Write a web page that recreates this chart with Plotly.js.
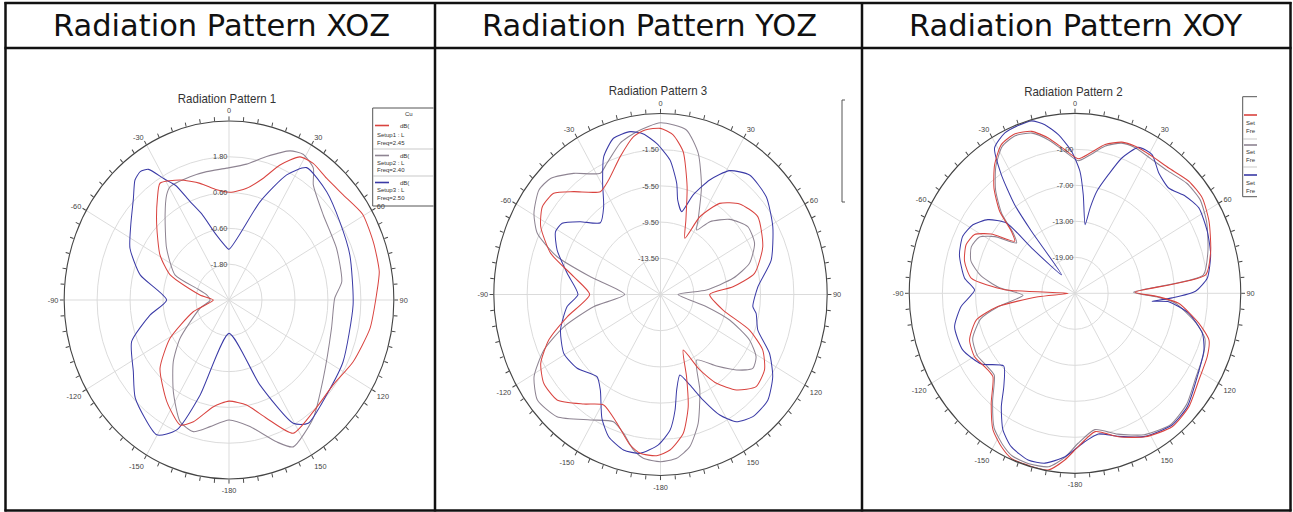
<!DOCTYPE html>
<html><head><meta charset="utf-8">
<script src="https://cdn.plot.ly/plotly-3.0.1.min.js"></script>
<style>
html,body{margin:0;padding:0;background:#fff;}
#wrap{position:relative;width:1293px;height:512px;overflow:hidden;}
#frame{position:absolute;left:0;top:0;width:1293px;height:512px;}
#polars{position:absolute;left:0;top:0;width:1404px;height:512px;transform:scaleX(0.920940);transform-origin:0 0;}
</style>
</head><body><div id="wrap"><div id="frame"></div><div id="polars"></div></div>
<script>
// ---------- DATA ----------
const HEADERS = ['Radiation Pattern XOZ', 'Radiation Pattern YOZ', 'Radiation Pattern XOY'];
const PLOT_TITLES = ['Radiation Pattern 1', 'Radiation Pattern 3', 'Radiation Pattern 2'];
const ANGLE_LABELS = ['0','30','60','90','120','150','-180','-150','-120','-90','-60','-30'];
const SERIES_NAMES = ['Setup1 : LastAdaptive Freq=2.45GHz', 'Setup2 : LastAdaptive Freq=2.40GHz', 'Setup3 : LastAdaptive Freq=2.50GHz'];

// Plot 1 (XOZ), dB
const P1_RANGE = [-3, 3];
const P1_TICKS = [-1.8, -0.6, 0.6, 1.8];
const P1_TICKTEXT = ['-1.80', '-0.60', '0.60', '1.80'];
const P1_RED_T = [180,-171,-162.4,-157,-146.4,-132.4,-120.9,-106.8,-90,-81,-68.6,-59,-46.3,-37.4,-32.7,-23.9,-15.1,-6.9,0.6,9.7,17,22.3,28.3,33.8,41,49.7,59.4,70,80.2,88.2,100.5,114.6,126.9,140.7,152.4,161,169.7,180];
const P1_RED_R = [0.39,0.62,1.28,1.55,1.09,0.40,-0.5,-1.64,-2.43,-1.93,-0.70,-0.07,0.64,1.29,1.65,1.40,1.05,0.72,0.61,0.80,1.27,1.89,2.45,2.51,2.41,2.45,2.65,2.60,2.55,2.37,2.22,1.97,1.74,1.84,2.04,1.19,0.58,0.39];
const P1_GRAY_T = [180,-170.8,-163.6,-156.4,-146.6,-135.6,-125.8,-104.7,-91,-78,-71.7,-66.8,-52.6,-39.2,-32.8,-29.5,-18.9,-10.7,-1.1,8,15.9,24,28.9,34.8,38.5,50.3,66.1,81.5,89,104.3,127.4,142.3,154.6,160,169.8,180];
const P1_GRAY_R = [1.02,1.30,1.60,1.45,0.68,-0.10,-0.80,-1.91,-2.31,-2.17,-1.76,-0.86,-0.14,0.68,1.19,1.36,1.37,1.38,1.42,1.60,2.00,2.47,2.58,2.38,1.93,1.46,1.28,1.15,0.85,0.85,1.32,2.01,2.45,2.06,1.31,1.02];
const P1_BLUE_T = [180,-161.7,-156.4,-149.8,-134,-124.6,-111.5,-100,-90,-75.4,-64.3,-54.9,-45.6,-40.4,-36.9,-33.8,-30.2,-26.8,-23.3,-19,-12.8,-5,0,18.9,26.6,32.5,44.4,57,71.1,92,116.5,131.9,145.1,150.5,158.4,180];
const P1_BLUE_R = [-1.88,0.36,1.75,2.23,1.74,1.23,0.81,-0.08,-0.73,0.34,1.00,1.37,1.87,2.28,2.38,2.27,1.70,1.30,0.60,0.05,-0.70,-1.15,-1.30,0.48,1.69,2.26,2.08,1.81,1.65,1.52,1.64,1.77,2.04,1.75,0.07,-1.88];

// Plot 2 (YOZ), dB
const P2_RANGE = [-17.5, 2.5];
const P2_TICKS = [-13.5, -9.5, -5.5, -1.5];
const P2_TICKTEXT = ['-13.50', '-9.50', '-5.50', '-1.50'];
const P2_RED_T = [-178.5,-172.1,-167.6,-159.9,-150.8,-142.7,-133.2,-125,-117.9,-110.5,-102.4,-90,-79.3,-70.9,-62.4,-55.6,-48.9,-42.5,-32.4,-26.2,-17.6,-10.5,-5.8,0,4.9,9.8,15,20.3,25.2,28.8,35.2,43.5,53.6,66.7,78.3,84.4,90,102.9,110.2,116.6,123.7,131.6,139.2,145.6,150.5,156.1,161,165,169.9,176.2,181.5];
const P2_RED_R = [0.32,0.22,-0.48,-2.34,-3.52,-2.28,-0.48,-0.40,-1.24,-3.20,-6.04,-9.0,-6.90,-3.54,-1.28,-0.32,-0.50,-2.08,-4.04,-3.40,-1.52,0.24,0.78,0.86,0.20,-1.50,-5.16,-8.72,-10.64,-7.70,-5.18,-3.70,-3.00,-4.14,-5.98,-8.76,-11.6,-9.80,-6.12,-3.78,-2.50,-2.16,-3.56,-5.60,-7.92,-10.78,-7.90,-4.66,-1.92,-0.28,0.32];
const P2_GRAY_T = [180,-173.5,-169.3,-163.9,-158.1,-148.7,-137.4,-128.3,-120.9,-113.7,-107.1,-99.5,-90,-76.9,-71.4,-65.4,-59.4,-51.7,-45.8,-37.9,-28.3,-23.9,-16.2,-9,0,9.7,16.2,22.4,28.7,31.3,36.4,45,54.4,63.4,72.1,78.4,84.8,90,103.7,108.8,115.2,121,126.4,132.5,139.6,149.2,155.9,162.4,168.2,173.9,180];
const P2_GRAY_R = [0.98,0.72,-0.02,-1.54,-2.36,-1.28,0.84,1.32,0.18,-2.22,-5.36,-9.36,-13.2,-8.86,-4.42,-1.24,0.14,1.10,0.90,-0.54,-2.28,-1.64,-0.10,0.72,1.48,0.94,-1.26,-4.60,-8.10,-9.16,-7.50,-5.76,-4.62,-4.88,-6.28,-8.62,-11.96,-15.4,-11.82,-8.74,-5.70,-4.12,-3.74,-5.16,-7.12,-9.06,-5.94,-2.56,-0.32,0.70,0.98];
const P2_BLUE_T = [-179.1,-172.1,-165.5,-158.4,-152.8,-145.6,-140,-129.2,-119.3,-108.1,-96.8,-90,-78.2,-68.4,-61.2,-56.3,-50.1,-42.3,-35.1,-29.5,-24.1,-18.1,-11.4,-6.6,-1.6,4.4,9,11.2,15.5,19.6,25,31.2,39,49.6,60.9,74,85.8,96.9,100.3,108.6,116.4,124,132.2,140.6,147.1,151.9,156.3,160.6,165.4,169.6,172.2,175.6,180.9];
const P2_BLUE_R = [-0.88,0.22,0.24,-0.60,-2.12,-4.72,-5.64,-4.60,-4.20,-4.88,-6.22,-7.6,-6.06,-4.16,-3.12,-3.32,-4.96,-6.78,-5.64,-3.40,-0.82,0.66,0.86,0.36,-0.80,-2.60,-5.06,-6.86,-8.00,-5.82,-3.54,-1.50,-0.52,-0.84,-2.08,-3.68,-5.78,-6.34,-5.84,-5.18,-2.90,-1.26,-0.12,-0.04,-0.76,-2.40,-4.76,-6.90,-8.30,-6.76,-4.62,-2.48,-0.88];

// Plot 3 (XOY), dB
const P3_RANGE = [-25, 5];
const P3_TICKS = [-19, -13, -7, -1];
const P3_TICKTEXT = ['-19.00', '-13.00', '-7.00', '-1.00'];
const P3_RED_T = [-176.2,-170.6,-163.6,-157.3,-152.5,-146.9,-140.4,-133.1,-127.9,-120.2,-112.2,-104,-99,-95,-90,-87.3,-82.3,-75,-67.6,-61.7,-56.9,-51.5,-48.1,-44.9,-39.9,-34.2,-28.3,-22.4,-16.2,-10.6,-4.4,1.5,6.7,12.4,18.6,24,31.4,39.1,47.8,55.4,63.7,74.1,82.6,89,92.2,95.1,102.6,107.8,113.8,122.8,132.5,141.7,152,161.8,171,178.7,183.8];
const P3_RED_R = [2.84,4.85,4.9,4.82,3.83,2.18,-1.21,-4.66,-4.66,-3.97,-4.39,-6.58,-10.87,-18.3,-23.8,-12.26,-6.04,-4.30,-3.70,-4.36,-6.90,-11.06,-9.55,-5.68,-2.14,0.89,3.14,3.71,3.11,1.34,-1.00,-2.56,-1.45,0.38,1.58,1.82,1.76,1.91,2.81,2.99,2.06,0.53,-1.15,-14.1,-9.85,-6.16,-2.02,0.47,1.16,1.67,2.96,3.35,2.09,0.17,-1.66,0.56,2.84];
const P3_GRAY_T = [-176.2,-170.6,-163.6,-157.3,-152.5,-146.9,-140.4,-133.1,-127.9,-120.2,-112.2,-104,-99,-92,-86,-80,-74,-67.6,-61.7,-56.9,-51.5,-48.1,-44.9,-39.9,-34.2,-28.3,-22.4,-16.2,-10.6,-4.4,1.5,6.7,12.4,18.6,24,31.4,39.1,47.8,55.4,63.7,74.1,82.6,89,92.2,95.1,102.6,107.8,113.8,122.8,132.5,141.7,152,161.8,171,178.7,183.8];
const P3_GRAY_R = [2.4,4.3,4.6,4.4,3.4,1.8,-1.6,-5.0,-5.0,-4.5,-5.0,-7.4,-11.0,-15.6,-11.2,-7.6,-5.4,-4.7,-5.3,-7.7,-11.5,-10.0,-6.2,-2.6,0.5,2.8,3.4,2.8,1.0,-1.3,-2.9,-1.8,0.1,1.4,1.6,1.3,1.4,2.3,2.5,1.6,0.0,-1.6,-14.4,-10.4,-6.8,-2.6,-0.3,0.4,1.0,2.4,2.9,1.7,-0.3,-2.0,0.0,2.4];
const P3_BLUE_T = [-176.2,-169.1,-163,-155.7,-150.2,-144.8,-140.4,-133.2,-124.8,-114.9,-104.4,-96.1,-88.3,-82.7,-73,-64.9,-58.3,-52.1,-46.6,-46.1,-38.2,-37.3,-36.5,-34,-31,-25.4,-20.2,-15.3,-11,-6.5,-1.5,2.5,5.2,9.1,10.9,13.1,17,20.6,25.3,31.1,37.1,44,51,57.6,66.7,75.3,83.9,89.1,92.5,95.4,94.7,99.2,106.1,112,122.1,132.9,141.3,152,161.8,169.8,175.8,183.8];
const P3_BLUE_R = [2.30,3.83,4.04,3.05,1.25,-1.87,-4.78,-7.30,-4.36,-2.59,-2.50,-4.27,-6.82,-4.84,-3.13,-2.56,-3.28,-5.02,-7.93,-14.08,-21.07,-12.0,-6.64,-1.15,3.26,4.6,4.8,4.8,3.62,1.61,-1.33,-4.63,-8.50,-13.42,-10.5,-7.54,-4.33,-0.91,1.91,2.00,0.14,-0.61,0.71,1.55,1.07,0.38,-0.91,-3.19,-7.39,-11.0,-7.99,-4.12,-1.00,0.17,1.13,2.75,3.11,2.0,0.1,-1.18,-0.22,2.30];

// ---------- FRAME FIGURE (table, headers, clipped legends) ----------
const W = 1293, H = 512;
const X = x => x / W, Y = y => 1 - y / H;
const COLORS = ['#d9433f', '#8e8492', '#3a3aa6'];
const FT = 'Liberation Sans, Arial, sans-serif';

const shapes = [];
function hl(y, x0, x1, w, c) { shapes.push({type: 'line', xref: 'paper', yref: 'paper', x0: X(x0), x1: X(x1), y0: Y(y), y1: Y(y), line: {color: c || '#111', width: w}}); }
function vl(x, y0, y1, w, c) { shapes.push({type: 'line', xref: 'paper', yref: 'paper', x0: X(x), x1: X(x), y0: Y(y0), y1: Y(y1), line: {color: c || '#111', width: w}}); }
function path(pts, c, w) { shapes.push({type: 'path', xref: 'paper', yref: 'paper', path: 'M' + pts.map(p => X(p[0]) + ',' + Y(p[1])).join('L'), line: {color: c, width: w}}); }
hl(3, 4.5, 1291.5, 2.5); hl(48, 4.5, 1291.5, 2.5); hl(510.5, 4.5, 1291.5, 2.5);
vl(5.5, 2, 511.5, 2.5); vl(435, 2, 511.5, 2.5); vl(862, 2, 511.5, 2.5); vl(1290.5, 2, 511.5, 2.5);

const ann = [];
function txt(x, y, s, size, color, anchor, family) { ann.push({xref: 'paper', yref: 'paper', x: X(x), y: Y(y), text: s, showarrow: false, xanchor: anchor || 'center', yanchor: 'middle', font: {family: family || FT, size: size, color: color || '#333'}}); }
const HF = 'DejaVu Sans, sans-serif';
txt(221.5, 25, HEADERS[0], 30.5, '#111', 'center', HF);
txt(649, 25, HEADERS[1], 30.5, '#111', 'center', HF);
txt(1076, 25, HEADERS[2], 30.5, '#111', 'center', HF);

// legend 1 (clipped by the cell border)
path([[433.5, 108], [372.7, 108], [372.7, 206], [433.5, 206]], '#555', 1);
hl(149, 373, 433.5, 0.8, '#bbbbbb'); hl(176, 373, 433.5, 0.8, '#bbbbbb');
hl(125.5, 375, 389, 1.6, COLORS[0]); hl(155.5, 375, 389, 1.6, COLORS[1]); hl(182.5, 375, 389, 1.6, COLORS[2]);
txt(403, 113.5, 'Cu', 6, '#333', 'left');
[[125.5, 135, 143, 'Setup1 : L', 'Freq=2.45'], [155.5, 162.7, 170, 'Setup2 : L', 'Freq=2.40'], [182.5, 190, 197.5, 'Setup3 : L', 'Freq=2.50']].forEach(e => {
  txt(398, e[0], 'dB(', 6, '#333', 'left'); txt(375, e[1], e[3], 6, '#333', 'left'); txt(375, e[2], e[4], 6, '#333', 'left');
});
// legend 2 (only left edge visible)
path([[845, 100], [842, 100], [842, 202], [845, 202]], '#555', 1);
// legend 3 (clipped)
path([[1257, 96.7], [1242.7, 96.7], [1242.7, 196.7], [1257, 196.7]], '#555', 1);
hl(139, 1243, 1257, 0.8, '#bbbbbb'); hl(167, 1243, 1257, 0.8, '#bbbbbb');
hl(115, 1244, 1257, 1.6, COLORS[0]); hl(145, 1244, 1257, 1.6, COLORS[1]); hl(175, 1244, 1257, 1.6, COLORS[2]);
[[122.7, 131], [151.7, 160], [182.7, 190.7]].forEach(e => { txt(1244, e[0], 'Set', 6, '#333', 'left'); txt(1244, e[1], 'Fre', 6, '#333', 'left'); });

Plotly.newPlot('frame', [], {
  width: W, height: H, margin: {l: 0, r: 0, t: 0, b: 0}, paper_bgcolor: '#fff', plot_bgcolor: '#fff', showlegend: false, hovermode: false,
  xaxis: {visible: false}, yaxis: {visible: false}, shapes: shapes, annotations: ann
}, {staticPlot: true, displayModeBar: false});

// ---------- POLAR FIGURE (drawn wide, then squeezed horizontally like the reference) ----------
const S = 1293 / 1404, W2 = 1404;
const X2 = x => (x / S) / W2;
const SPOKES = [0,30,60,90,120,150,180,210,240,270,300,330];
const MINOR = []; for (let a = 0; a < 360; a += 5) MINOR.push(a);
const MINOR_TEXT = MINOR.map(a => a % 30 === 0 ? ANGLE_LABELS[a / 30] : '');

function dom(cx, cy, R) { return {x: [X2(cx) - R / W2, X2(cx) + R / W2], y: [Y(cy + R), Y(cy - R)]}; }
function gridPolar(d, range, grid) {
  return {domain: d, bgcolor: 'rgba(0,0,0,0)',
    angularaxis: {rotation: 90, direction: 'clockwise', tickmode: 'array', tickvals: SPOKES, showticklabels: false, ticks: '', showline: false, showgrid: true, gridcolor: '#d9d9d9', gridwidth: 1},
    radialaxis: {range: range, tickmode: 'array', tickvals: grid, showticklabels: false, ticks: '', showline: false, showgrid: true, gridcolor: '#d9d9d9', gridwidth: 1}};
}
function dataPolar(d, range, tv, tt) {
  return {domain: d, bgcolor: 'rgba(0,0,0,0)',
    angularaxis: {rotation: 90, direction: 'clockwise', tickmode: 'array', tickvals: MINOR, ticktext: MINOR_TEXT, ticks: 'outside', ticklen: 4, tickwidth: 1, tickcolor: '#444', showline: true, linecolor: '#444', linewidth: 1.2, showgrid: false, tickfont: {family: FT, size: 8, color: '#444'}},
    radialaxis: {range: range, tickmode: 'array', tickvals: tv, ticktext: tt, angle: 90, tickangle: 90, side: 'counterclockwise', showgrid: false, showline: false, ticks: '', tickfont: {family: FT, size: 8, color: '#444'}}};
}
function curve(t, r, i, sub) {
  return {type: 'scatterpolar', mode: 'lines', theta: t, r: r, subplot: sub, name: SERIES_NAMES[i], showlegend: false, line: {color: COLORS[i], width: 1.1, shape: 'spline', smoothing: 0.6}, hoverinfo: 'skip'};
}
const D1 = dom(229, 300, 179), D2 = dom(660.5, 294.5, 181), D3 = dom(1075, 293.3, 180);

const data = [
  {type: 'scatterpolar', r: [], theta: [], subplot: 'polar', showlegend: false},
  {type: 'scatterpolar', r: [], theta: [], subplot: 'polar2', showlegend: false},
  {type: 'scatterpolar', r: [], theta: [], subplot: 'polar3', showlegend: false},
  curve(P1_GRAY_T, P1_GRAY_R, 1, 'polar4'), curve(P1_BLUE_T, P1_BLUE_R, 2, 'polar4'), curve(P1_RED_T, P1_RED_R, 0, 'polar4'),
  curve(P2_GRAY_T, P2_GRAY_R, 1, 'polar5'), curve(P2_BLUE_T, P2_BLUE_R, 2, 'polar5'), curve(P2_RED_T, P2_RED_R, 0, 'polar5'),
  curve(P3_GRAY_T, P3_GRAY_R, 1, 'polar6'), curve(P3_BLUE_T, P3_BLUE_R, 2, 'polar6'), curve(P3_RED_T, P3_RED_R, 0, 'polar6')
];
const ann2 = [[227, 98.5, PLOT_TITLES[0]], [658, 90.5, PLOT_TITLES[1]], [1073, 92, PLOT_TITLES[2]]].map(a => ({
  xref: 'paper', yref: 'paper', x: X2(a[0]), y: Y(a[1]), text: a[2], showarrow: false, xanchor: 'center', yanchor: 'middle', font: {family: FT, size: 12.5, color: '#333'}}));

Plotly.newPlot('polars', data, {
  width: W2, height: H, margin: {l: 0, r: 0, t: 0, b: 0}, paper_bgcolor: 'rgba(0,0,0,0)', showlegend: false, hovermode: false,
  polar: gridPolar(D1, P1_RANGE, P1_TICKS.concat([3])), polar2: gridPolar(D2, P2_RANGE, P2_TICKS.concat([2.5])), polar3: gridPolar(D3, P3_RANGE, P3_TICKS.concat([5])),
  polar4: dataPolar(D1, P1_RANGE, P1_TICKS, P1_TICKTEXT), polar5: dataPolar(D2, P2_RANGE, P2_TICKS, P2_TICKTEXT), polar6: dataPolar(D3, P3_RANGE, P3_TICKS, P3_TICKTEXT),
  annotations: ann2
}, {staticPlot: true, displayModeBar: false});
</script></body></html>
